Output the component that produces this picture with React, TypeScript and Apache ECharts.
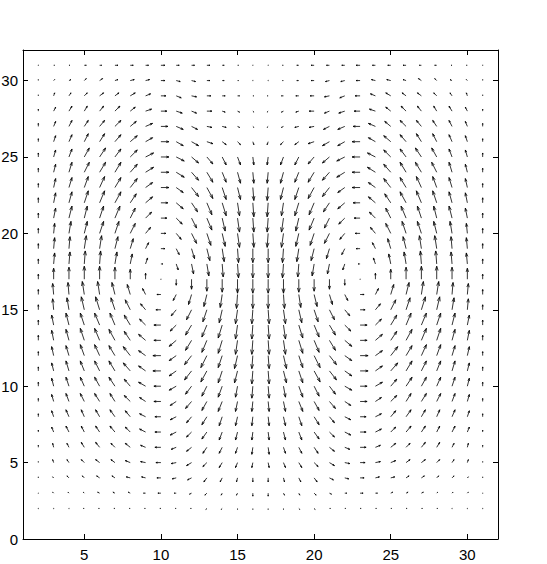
import React, { useEffect, useRef } from "react";
import * as echarts from "echarts";

// grid positions
const X_VALUES = [2, 3, 4, 5, 6, 7, 8, 9, 10, 11, 12, 13, 14, 15, 16, 17, 18, 19, 20, 21, 22, 23, 24, 25, 26, 27, 28, 29, 30, 31];
const Y_VALUES = [31, 30, 29, 28, 27, 26, 25, 24, 23, 22, 21, 20, 19, 18, 17, 16, 15, 14, 13, 12, 11, 10, 9, 8, 7, 6, 5, 4, 3, 2];

// horizontal component (one row per Y_VALUES entry, one column per X_VALUES entry)
const U_ROWS = [
  [0,1,1,2,2,3,3,3,4,3,3,3,2,1,0, 0,-1,-2,-3,-3,-3,-4,-3,-3,-3,-2,-2,-1,-1,0],
  [0,1,2,2,3,3,4,4,4,4,4,3,2,1,0, 0,-1,-2,-3,-4,-4,-4,-4,-4,-3,-3,-2,-2,-1,0],
  [0,1,2,3,4,4,5,5,5,5,5,4,3,2,1, -1,-2,-3,-4,-5,-5,-5,-5,-5,-4,-4,-3,-2,-1,0],
  [0,2,3,3,4,5,5,6,6,6,5,5,3,2,1, -1,-2,-3,-5,-5,-6,-6,-6,-5,-5,-4,-3,-3,-2,0],
  [0,2,3,4,5,6,6,7,7,7,6,5,4,2,1, -1,-2,-4,-5,-6,-7,-7,-7,-6,-6,-5,-4,-3,-2,0],
  [0,2,3,4,5,6,7,7,8,7,7,6,4,3,1, -1,-3,-4,-6,-7,-7,-8,-7,-7,-6,-5,-4,-3,-2,0],
  [0,2,3,5,6,6,7,8,8,8,7,6,4,3,1, -1,-3,-4,-6,-7,-8,-8,-8,-7,-6,-6,-5,-3,-2,0],
  [0,2,3,5,6,6,7,8,8,8,7,6,4,3,1, -1,-3,-4,-6,-7,-8,-8,-8,-7,-6,-6,-5,-3,-2,0],
  [0,2,3,4,5,6,7,7,8,7,7,6,4,3,1, -1,-3,-4,-6,-7,-7,-8,-7,-7,-6,-5,-4,-3,-2,0],
  [0,2,3,4,5,6,6,7,7,7,6,5,4,2,1, -1,-2,-4,-5,-6,-7,-7,-7,-6,-6,-5,-4,-3,-2,0],
  [0,2,3,3,4,5,5,6,6,6,5,5,3,2,1, -1,-2,-3,-5,-5,-6,-6,-6,-5,-5,-4,-3,-3,-2,0],
  [0,1,2,3,4,4,5,5,5,5,5,4,3,2,1, -1,-2,-3,-4,-5,-5,-5,-5,-5,-4,-4,-3,-2,-1,0],
  [0,1,1,2,2,3,3,3,4,3,3,3,2,1,0, 0,-1,-2,-3,-3,-3,-4,-3,-3,-3,-2,-2,-1,-1,0],
  [0,1,1,1,1,2,2,2,2,2,2,2,1,1,0, 0,-1,-1,-2,-2,-2,-2,-2,-2,-2,-1,-1,-1,-1,0],
  [0,0,0,0,0,0,0,0,0,0,0,0,0,0,0, 0,0,0,0,0,0,0,0,0,0,0,0,0,0,0],
  [0,-1,-1,-2,-2,-3,-3,-3,-4,-3,-3,-3,-2,-1,0, 0,1,2,3,3,3,4,3,3,3,2,2,1,1,0],
  [0,-1,-2,-3,-4,-4,-5,-5,-5,-5,-5,-4,-3,-2,-1, 1,2,3,4,5,5,5,5,5,4,4,3,2,1,0],
  [0,-2,-3,-4,-5,-5,-6,-6,-7,-6,-6,-5,-4,-2,-1, 1,2,4,5,6,6,7,6,6,5,5,4,3,2,0],
  [0,-2,-3,-4,-5,-6,-6,-7,-7,-7,-6,-5,-4,-2,-1, 1,2,4,5,6,7,7,7,6,6,5,4,3,2,0],
  [0,-2,-3,-4,-5,-6,-7,-7,-8,-7,-7,-6,-4,-3,-1, 1,3,4,6,7,7,8,7,7,6,5,4,3,2,0],
  [0,-2,-3,-4,-5,-6,-7,-7,-8,-7,-7,-6,-4,-3,-1, 1,3,4,6,7,7,8,7,7,6,5,4,3,2,0],
  [0,-2,-3,-4,-5,-6,-6,-7,-7,-7,-6,-5,-4,-2,-1, 1,2,4,5,6,7,7,7,6,6,5,4,3,2,0],
  [0,-2,-3,-4,-5,-5,-6,-6,-7,-6,-6,-5,-4,-2,-1, 1,2,4,5,6,6,7,6,6,5,5,4,3,2,0],
  [0,-2,-3,-3,-4,-5,-5,-6,-6,-6,-5,-5,-3,-2,-1, 1,2,3,5,5,6,6,6,5,5,4,3,3,2,0],
  [0,-2,-3,-3,-4,-5,-5,-6,-6,-6,-5,-5,-3,-2,-1, 1,2,3,5,5,6,6,6,5,5,4,3,3,2,0],
  [0,-1,-2,-3,-4,-4,-5,-5,-6,-5,-5,-4,-3,-2,-1, 1,2,3,4,5,5,6,5,5,4,4,3,2,1,0],
  [0,-1,-2,-3,-4,-4,-5,-5,-5,-5,-5,-4,-3,-2,-1, 1,2,3,4,5,5,5,5,5,4,4,3,2,1,0],
  [0,-1,-2,-2,-3,-3,-4,-4,-4,-4,-4,-3,-2,-1,0, 0,1,2,3,4,4,4,4,4,3,3,2,2,1,0],
  [0,-1,-1,-1,-2,-2,-2,-2,-3,-2,-2,-2,-1,-1,0, 0,1,1,2,2,2,3,2,2,2,2,1,1,1,0],
  [0,0,0,-1,-1,-1,-1,-1,-1,-1,-1,-1,-1,0,0, 0,0,1,1,1,1,1,1,1,1,1,1,0,0,0],
];

// vertical component
const V_ROWS = [
  [0,0,0,0,0,0,0,0,0,0,0,0,0,0,0, 0,0,0,0,0,0,0,0,0,0,0,0,0,0,0],
  [1,1,1,2,2,1,1,1,0,-1,-1,0,0,0,0, 0,0,0,0,-1,-1,0,1,1,1,2,2,1,1,1],
  [1,3,3,3,3,3,3,2,0,-2,-1,0,0,0,0, 0,0,0,0,-1,-2,0,2,3,3,3,3,3,3,1],
  [2,4,5,5,5,5,4,2,0,-2,-2,0,-1,-1,-1, -1,-1,-1,0,-2,-2,0,2,4,5,5,5,5,4,2],
  [3,5,6,6,6,6,5,3,0,-3,-3,-1,-1,-1,-1, -1,-1,-1,-1,-3,-3,0,3,5,6,6,6,6,5,3],
  [3,6,7,8,8,7,6,4,0,-4,-4,-2,-3,-3,-3, -3,-3,-3,-2,-4,-4,0,4,6,7,8,8,7,6,3],
  [4,7,8,9,9,8,7,4,0,-4,-6,-7,-8,-8,-8, -8,-8,-8,-7,-6,-4,0,4,7,8,9,9,8,7,4],
  [4,8,10,10,10,10,8,5,0,-5,-8,-10,-10,-11,-11, -11,-11,-10,-10,-8,-5,0,5,8,10,10,10,10,8,4],
  [4,9,10,11,11,10,9,5,0,-5,-9,-11,-12,-12,-13, -13,-12,-12,-11,-9,-5,0,5,9,10,11,11,10,9,4],
  [5,10,11,12,12,11,9,6,0,-6,-9,-12,-13,-13,-14, -14,-13,-13,-12,-9,-6,0,6,9,11,12,12,11,10,5],
  [5,10,12,12,12,12,10,6,0,-6,-10,-12,-13,-14,-14, -14,-14,-13,-12,-10,-6,0,6,10,12,12,12,12,10,5],
  [5,10,12,12,12,12,10,6,0,-6,-10,-12,-13,-14,-14, -14,-14,-13,-12,-10,-6,0,6,10,12,12,12,12,10,5],
  [5,11,12,13,13,12,10,6,0,-6,-10,-12,-13,-14,-14, -14,-14,-13,-12,-10,-6,0,6,10,12,13,13,12,11,5],
  [5,11,12,13,13,12,10,6,0,-6,-10,-12,-13,-14,-14, -14,-14,-13,-12,-10,-6,0,6,10,12,13,13,12,11,5],
  [5,11,12,13,13,12,10,6,0,-6,-10,-12,-13,-14,-14, -14,-14,-13,-12,-10,-6,0,6,10,12,13,13,12,11,5],
  [5,11,12,13,13,12,10,6,0,-6,-10,-12,-13,-14,-14, -14,-14,-13,-12,-10,-6,0,6,10,12,13,13,12,11,5],
  [5,11,12,13,13,12,10,6,0,-6,-10,-12,-13,-14,-14, -14,-14,-13,-12,-10,-6,0,6,10,12,13,13,12,11,5],
  [5,10,12,12,12,12,10,6,0,-6,-10,-12,-13,-14,-14, -14,-14,-13,-12,-10,-6,0,6,10,12,12,12,12,10,5],
  [5,10,11,12,12,11,9,6,0,-6,-10,-12,-13,-14,-14, -14,-14,-13,-12,-10,-6,0,6,9,11,12,12,11,10,5],
  [4,9,10,11,11,10,9,5,0,-5,-9,-12,-12,-13,-13, -13,-13,-12,-12,-9,-5,0,5,9,10,11,11,10,9,4],
  [4,8,10,10,10,10,8,5,0,-5,-9,-11,-12,-12,-13, -13,-12,-12,-11,-9,-5,0,5,8,10,10,10,10,8,4],
  [4,8,9,9,9,9,7,4,0,-4,-8,-10,-11,-11,-12, -12,-11,-11,-10,-8,-4,0,4,7,9,9,9,9,8,4],
  [3,7,8,8,8,8,6,4,0,-4,-7,-9,-10,-10,-10, -10,-10,-10,-9,-7,-4,0,4,6,8,8,8,8,7,3],
  [3,6,7,7,7,7,6,3,0,-3,-6,-8,-9,-9,-9, -9,-9,-9,-8,-6,-3,0,3,6,7,7,7,7,6,3],
  [2,5,6,6,6,6,5,3,0,-3,-5,-7,-8,-8,-8, -8,-8,-8,-7,-5,-3,0,3,5,6,6,6,6,5,2],
  [2,4,4,5,5,4,4,2,0,-2,-4,-6,-6,-6,-7, -7,-6,-6,-6,-4,-2,0,2,4,4,5,5,4,4,2],
  [1,3,3,3,3,3,2,1,0,-1,-3,-4,-5,-5,-5, -5,-5,-5,-4,-3,-1,0,1,2,3,3,3,3,3,1],
  [1,1,2,2,2,2,1,1,0,-1,-2,-4,-4,-4,-4, -4,-4,-4,-4,-2,-1,0,1,1,2,2,2,2,1,1],
  [0,1,1,1,1,1,1,0,0,0,-1,-2,-2,-2,-3, -3,-2,-2,-2,-1,0,0,0,1,1,1,1,1,1,0],
  [0,0,0,0,0,0,0,0,0,0,0,-1,-1,-1,-1, -1,-1,-1,-1,0,0,0,0,0,0,0,0,0,0,0],
];

const X_TICKS = [5, 10, 15, 20, 25, 30];
const Y_TICKS = [0, 5, 10, 15, 20, 25, 30];

// arrow values are in screen pixels; convert to data units
const PX_TO_DATA = 1 / 15.3;

const FONT = "'Liberation Sans', Arial, Helvetica, sans-serif";

export default function App() {
  const ref = useRef<HTMLDivElement>(null);

  useEffect(() => {
    if (!ref.current) return;
    const chart = echarts.init(ref.current, null, { renderer: "svg" });

    const data: number[][] = [];
    Y_VALUES.forEach((y, r) => {
      X_VALUES.forEach((x, c) => {
        data.push([x, y, U_ROWS[r][c], V_ROWS[r][c]]);
      });
    });

    const axisLine = { onZero: false, lineStyle: { color: "#000", width: 1 } };
    const tickStyle = { color: "#000", width: 1 };

    const xAxisBase = {
      type: "value",
      min: 1,
      max: 32,
      splitLine: { show: false },
      axisLine,
    };
    const yAxisBase = {
      type: "value",
      min: 0,
      max: 32,
      splitLine: { show: false },
      axisLine,
    };

    chart.setOption({
      animation: false,
      backgroundColor: "#fff",
      grid: { left: 23, top: 50, width: 475, height: 489, containLabel: false, outerBoundsMode: "none" },
      xAxis: [
        {
          ...xAxisBase,
          position: "bottom",
          axisTick: { inside: true, length: 5, customValues: X_TICKS, lineStyle: tickStyle },
          axisLabel: { customValues: X_TICKS, color: "#000", fontSize: 15, fontFamily: FONT, margin: 8 },
        },
        {
          ...xAxisBase,
          position: "top",
          axisTick: { inside: true, length: 5, customValues: X_TICKS, lineStyle: tickStyle },
          axisLabel: { show: false },
        },
      ],
      yAxis: [
        {
          ...yAxisBase,
          position: "left",
          axisTick: { inside: true, length: 5, customValues: Y_TICKS, lineStyle: tickStyle },
          axisLabel: { customValues: Y_TICKS, color: "#000", fontSize: 15, fontFamily: FONT, margin: 5 },
        },
        {
          ...yAxisBase,
          position: "right",
          axisTick: { inside: true, length: 5, customValues: Y_TICKS, lineStyle: tickStyle },
          axisLabel: { show: false },
        },
      ],
      series: [
        {
          type: "custom",
          coordinateSystem: "cartesian2d",
          xAxisIndex: 0,
          yAxisIndex: 0,
          encode: { x: 0, y: 1 },
          data,
          renderItem: (params: any, api: any) => {
            const x = api.value(0);
            const y = api.value(1);
            const u = api.value(2);
            const v = api.value(3);
            const p0 = api.coord([x, y]);
            const p1 = api.coord([x + u * PX_TO_DATA, y + v * PX_TO_DATA]);
            const du = p1[0] - p0[0];
            const dv = p1[1] - p0[1];
            if (Math.abs(du) + Math.abs(dv) < 0.01) {
              return {
                type: "circle",
                shape: { cx: p0[0], cy: p0[1], r: 0.6 },
                style: { fill: "#555" },
              };
            }
            const a = 0.33;
            const b = 0.33;
            const h1 = [p1[0] - a * (du + b * dv), p1[1] - a * (dv - b * du)];
            const h2 = [p1[0] - a * (du - b * dv), p1[1] - a * (dv + b * du)];
            return {
              type: "group",
              children: [
                {
                  type: "line",
                  shape: { x1: p0[0], y1: p0[1], x2: p1[0], y2: p1[1] },
                  style: { stroke: "#000", lineWidth: 0.8 },
                },
                {
                  type: "polyline",
                  shape: { points: [h1, p1, h2] },
                  style: { stroke: "#000", lineWidth: 0.8, fill: null },
                },
              ],
            };
          },
        },
      ],
    });

    return () => chart.dispose();
  }, []);

  return (
    <div
      ref={ref}
      style={{ position: "fixed", left: 0, top: 0, width: 547, height: 564, background: "#fff" }}
    />
  );
}
